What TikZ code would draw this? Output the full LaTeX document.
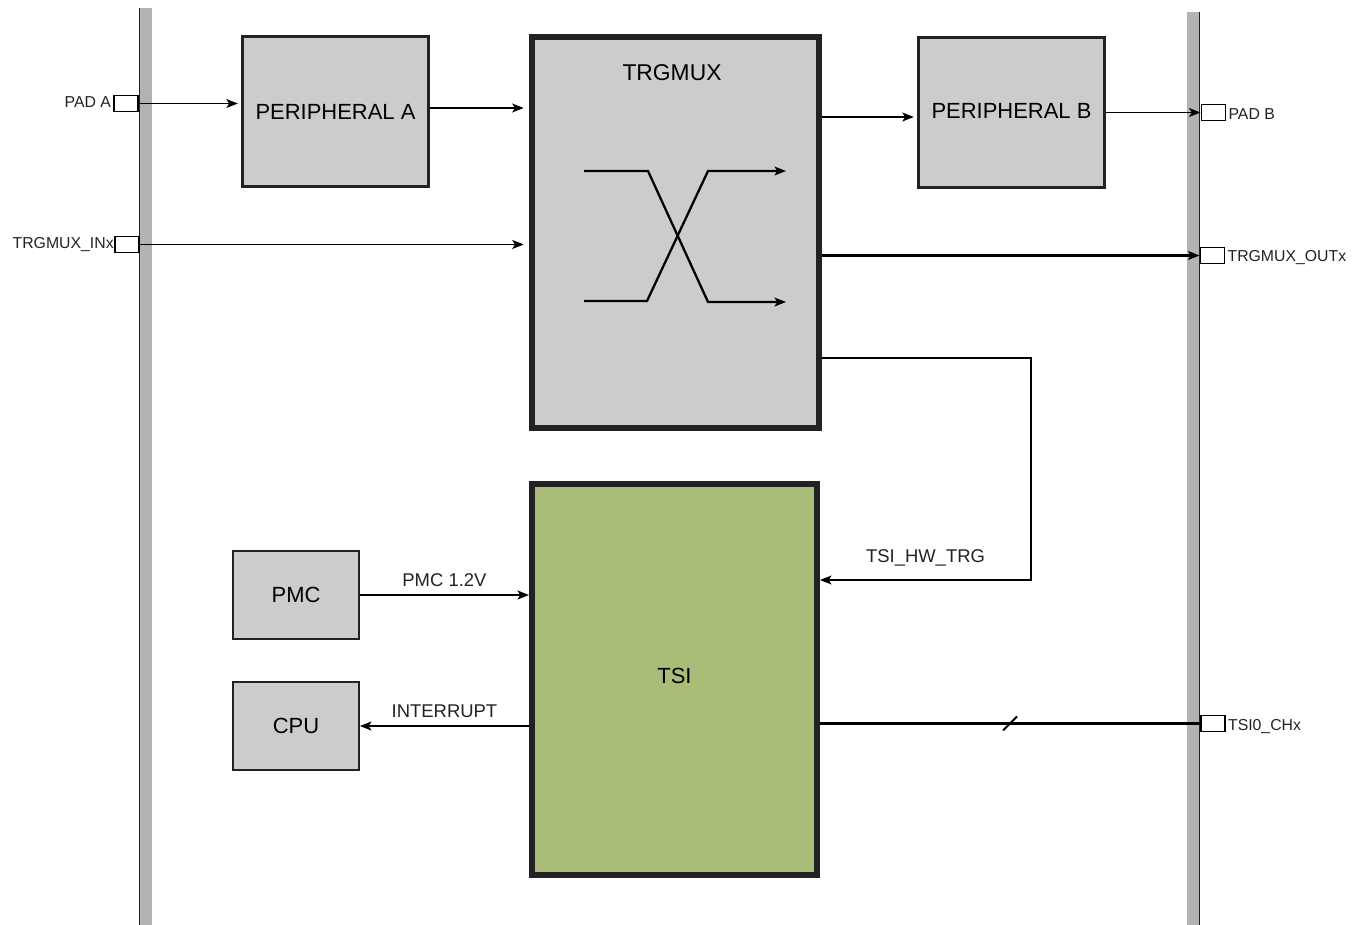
\documentclass[tikz,border=0pt]{standalone}
\usepackage{fontspec}
\setmainfont{Liberation Sans}
\usetikzlibrary{arrows.meta,positioning,calc}
\definecolor{BoxGray}{RGB}{204,204,204}
\definecolor{BarGray}{RGB}{179,179,179}
\definecolor{TsiGreen}{RGB}{169,189,120}
\definecolor{EdgeDark}{RGB}{34,34,34}
\tikzset{
  blk/.style={draw=EdgeDark,fill=BoxGray,line width=1.3pt,
              font=\fontsize{12.5}{15}\selectfont,align=center,inner sep=0pt},
  bigblk/.style={blk,line width=3.4pt},
  pad/.style={draw=black,fill=white,line width=1.1pt,minimum width=0.48cm,
              minimum height=0.32cm,inner sep=0pt},
  padlbl/.style={font=\fontsize{9}{11}\selectfont,inner sep=1pt,text=EdgeDark},
  sig/.style={-{Stealth[length=6.5pt,width=5pt,inset=1.5pt]},line width=1.1pt},
  siglbl/.style={font=\fontsize{10.5}{12}\selectfont,above,text=EdgeDark,inner sep=4pt},
}
\begin{document}
\begin{tikzpicture}[x=0.02cm,y=-0.02cm]
  \useasboundingbox (0,0) rectangle (1361,925);

  % chip boundary bars
  \fill[BarGray] (140,8) rectangle (152,925);
  \draw[EdgeDark,line width=0.8pt] (139.5,8) -- (139.5,925);
  \fill[BarGray] (1187,12) rectangle (1199,925);
  \draw[EdgeDark,line width=0.8pt] (1199.5,12) -- (1199.5,925);

  % blocks
  \node[blk,minimum width=3.72cm,minimum height=3.0cm] (pa) at (335.5,111.5) {PERIPHERAL A};
  \node[bigblk,minimum width=5.74cm,minimum height=7.82cm] (trg) at (675.5,232.5) {};
  \node[blk,font=\fontsize{13}{15}\selectfont] (trgname) at (672,73) [draw=none,fill=none] {TRGMUX};
  \node[blk,minimum width=3.72cm,minimum height=3.0cm] (pb) at (1011.5,112.5) {\raisebox{2pt}{PERIPHERAL B}};
  \node[bigblk,fill=TsiGreen,minimum width=5.7cm,minimum height=7.82cm] (tsi) at (674.5,679.5) {\raisebox{4pt}{TSI}};
  \node[blk,minimum width=2.51cm,minimum height=1.75cm] (pmc) at (296,595) {PMC};
  \node[blk,minimum width=2.51cm,minimum height=1.75cm] (cpu) at (296,726) {CPU};

  % pads
  \node[pad,label={[padlbl,yshift=1pt]left:PAD A}] (pada) at (126,103.5) {};
  \node[pad,label={[padlbl,xshift=1pt]left:TRGMUX\_INx}] (padin) at (127,244.5) {};
  \node[pad,label={[padlbl,yshift=-1pt]right:PAD B}] (padb) at (1213.5,112.5) {};
  \node[pad,label={[padlbl,yshift=-1pt]right:TRGMUX\_OUTx}] (padout) at (1212.5,255.5) {};
  \node[pad,label={[padlbl,yshift=-2pt]right:TSI0\_CHx}] (padch) at (1213,723.5) {};

  % crossing symbol inside TRGMUX
  \draw[sig,line width=1.3pt] (584,171) -- (648,171) -- (708,302) -- (786,302);
  \draw[sig,line width=1.3pt] (584,301) -- (647,301) -- (708,171) -- (786,171);

  % connections
  \draw[sig] (pada.east) -- ([xshift=-2pt]pa.west |- pada.east);
  \draw[sig] (pa.east |- 0,108) -- ([xshift=-3pt]trg.west |- 0,108);
  \draw[sig] (padin.east) -- ([xshift=-3pt]trg.west |- padin.east);
  \draw[sig] (trg.east |- 0,117) -- ([xshift=-2pt]pb.west |- 0,117);
  \draw[sig] (pb.east) -- (padb.west);
  \draw[sig,line width=1.5pt] (trg.east |- padout.west) -- (padout.west);

  \coordinate (hwtop) at (1031,358);
  \coordinate (hwbot) at (1031,580);
  \draw[sig,line width=1.3pt] (trg.east |- hwtop) -- (hwtop) -- (hwbot)
    -- node[siglbl,inner sep=7pt] {TSI\_HW\_TRG} (hwbot -| tsi.east);

  \draw[sig,line width=1.3pt] (pmc.east) -- node[siglbl] {PMC 1.2V} (pmc.east -| tsi.west);
  \draw[sig,line width=1.3pt] (tsi.west |- cpu.east) -- node[siglbl] {INTERRUPT} (cpu.east);

  \draw[line width=1.3pt] (tsi.east |- padch.west) -- coordinate[pos=0.5] (slash) (padch.west);
  \draw[line width=1.1pt] ($(slash)+(-7,7)$) -- ($(slash)+(7,-7)$);
\end{tikzpicture}
\end{document}
